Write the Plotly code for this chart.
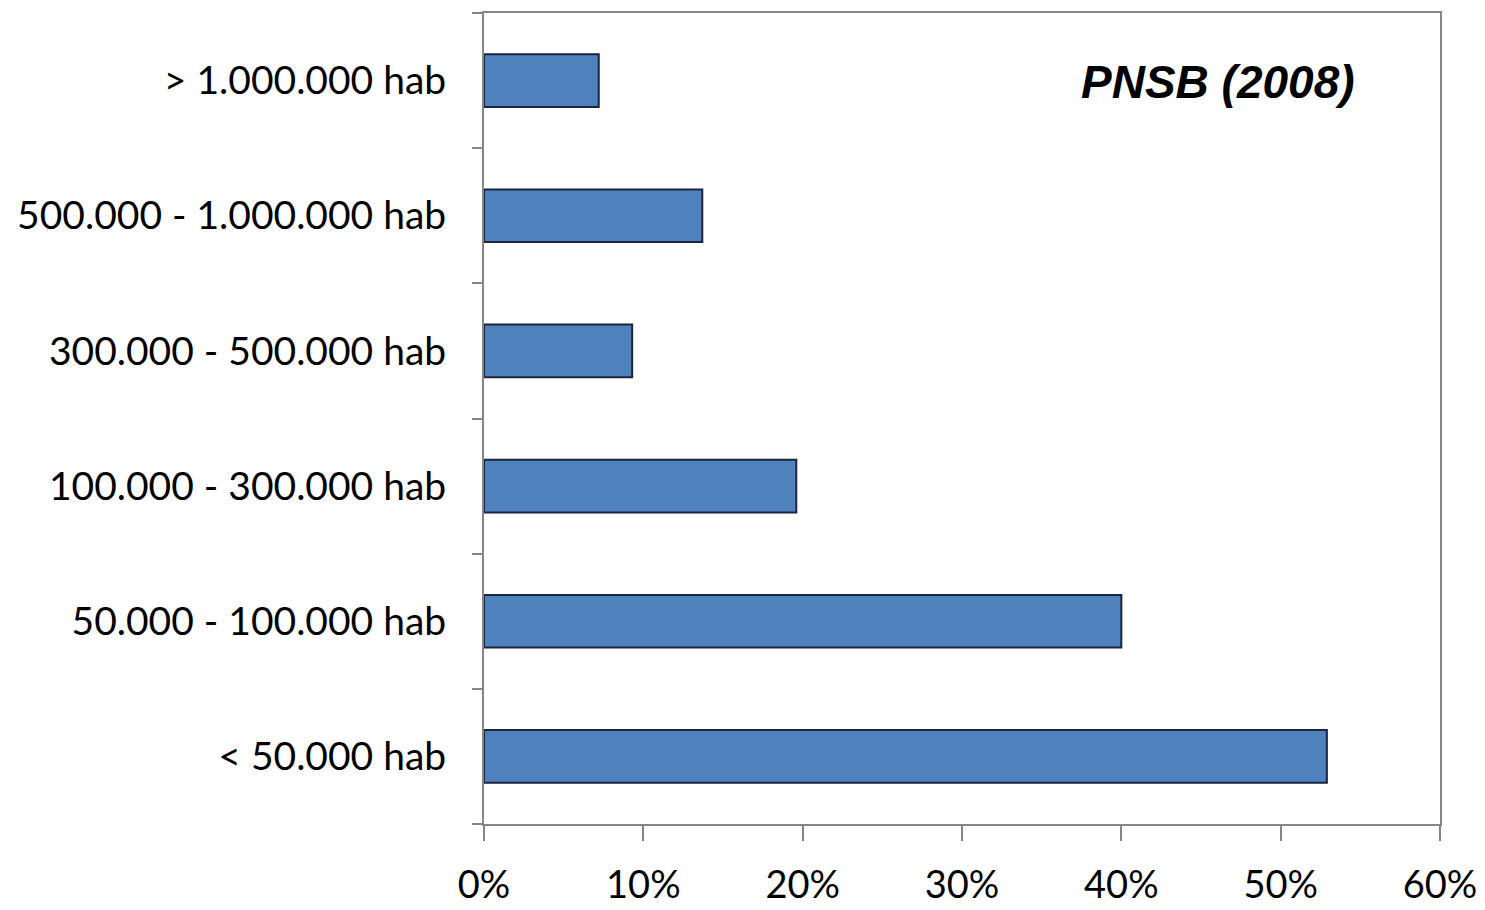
import plotly.graph_objects as go

categories = ["< 50.000 hab", "50.000 - 100.000 hab", "100.000 - 300.000 hab",
              "300.000 - 500.000 hab", "500.000 - 1.000.000 hab", "> 1.000.000 hab"]
values = [52.9, 40.0, 19.6, 9.3, 13.7, 7.2]
x_ticks = [0, 10, 20, 30, 40, 50, 60]
x_tick_labels = ["0%", "10%", "20%", "30%", "40%", "50%", "60%"]

fig = go.Figure(go.Bar(
    y=categories, x=values, orientation="h",
    marker=dict(color="#4F81BD", line=dict(color="#1A2540", width=2)),
    width=0.39,
))

axis_line = "#868686"
fig.update_layout(
    width=1485, height=910,
    margin=dict(l=484, r=45, t=13, b=86),
    plot_bgcolor="white", paper_bgcolor="white",
    showlegend=False,
    font=dict(family="Lato", color="black", size=39),
    xaxis=dict(range=[0, 60], tickvals=x_ticks, ticktext=x_tick_labels,
               showgrid=False, zeroline=False, showline=True, linecolor=axis_line,
               linewidth=2, mirror=True, ticks="outside", ticklen=15, tickwidth=2,
               tickcolor=axis_line, ticklabelstandoff=11, fixedrange=True,
               automargin=False, tickfont=dict(size=38)),
    yaxis=dict(type="category", categoryorder="array", categoryarray=categories,
               showgrid=False, zeroline=False, showline=True, linecolor=axis_line,
               linewidth=2, mirror=True, ticks="outside", ticklen=10, tickwidth=2,
               tickcolor=axis_line, tickson="boundaries", ticklabelstandoff=28,
               range=[-0.5, 5.5], automargin=False),
    annotations=[dict(text="<b><i>PNSB (2008)</i></b>",
                      x=(1218 - 484) / (1485 - 484 - 45),
                      y=1 - (82 - 13) / (910 - 13 - 86),
                      xref="paper", yref="paper", xanchor="center", yanchor="middle",
                      showarrow=False,
                      font=dict(family="Liberation Sans", size=46, color="black"))],
)

fig.write_html("out.html")
